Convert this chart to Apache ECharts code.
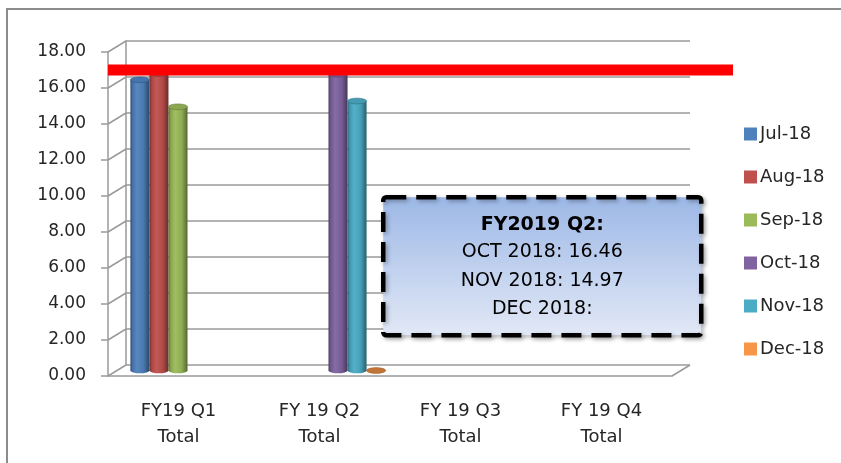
<!DOCTYPE html>
<html><head><meta charset="utf-8">
<script src="https://cdn.jsdelivr.net/npm/echarts@6/dist/echarts.min.js"></script>
<style>html,body{margin:0;padding:0;background:#fff}#c{width:841px;height:463px}</style>
</head><body><div id="c"></div>
<script>
// ---- data ----
const categories = ['FY19 Q1 Total', 'FY 19 Q2 Total', 'FY 19 Q3 Total', 'FY 19 Q4 Total'];
const seriesNames = ['Jul-18', 'Aug-18', 'Sep-18', 'Oct-18', 'Nov-18', 'Dec-18'];
const jul = [16.15, null, null, null];
const aug = [16.5, null, null, null];
const sep = [14.65, null, null, null];
const oct = [null, 16.46, null, null];
const nov = [null, 14.97, null, null];
const dec = [null, 0, null, null];
const targetValue = 17;
const yMin = 0, yMax = 18, yInterval = 2;
const noteTitle = 'FY2019 Q2:';
const noteLines = ['OCT 2018: ' + oct[1], 'NOV 2018: ' + nov[1], 'DEC 2018:'];

// ---- style ----
const seriesValues = [jul, aug, sep, oct, nov, dec];
const colors = ['#4F81BD', '#C0504D', '#9BBB59', '#8064A2', '#4BACC6', '#F79646'];
const FONT = 'DejaVu Sans';
const TXT = '#262626';
const GRID_C = '#9a9a9a';
const DX = 18, DY = 11;
const G = { left: 108, top: 52, width: 564, height: 324 };

// f < 0 darkens toward black, f > 0 lightens toward white
function shade(c, f) {
  const a = echarts.color.parse(c);
  const out = [0, 1, 2].map(i => Math.round(f < 0 ? a[i] * (1 + f) : a[i] + (255 - a[i]) * f));
  return 'rgb(' + out.join(',') + ')';
}

const yTicks = [];
for (let v = yMin; v <= yMax + 1e-9; v += yInterval) yTicks.push(v);

const chart = echarts.init(document.getElementById('c'), null, { renderer: 'canvas' });

function cylinderRender(si) {
  return function (params, api) {
    const cat = api.value(0), val = api.value(1);
    const top = api.coord([cat, val]);
    const base = api.coord([cat, 0]);
    const bandW = api.size([1, 0])[0];
    const w = bandW * 0.135;
    const x = top[0] - w * 3 + si * w;
    const ry = w * 0.15;
    const c = colors[si];
    const grad = new echarts.graphic.LinearGradient(0, 0, 1, 0, [
      { offset: 0, color: shade(c, -0.4) },
      { offset: 0.12, color: shade(c, -0.12) },
      { offset: 0.35, color: shade(c, 0.05) },
      { offset: 0.7, color: shade(c, -0.08) },
      { offset: 1, color: shade(c, -0.45) }
    ]);
    const children = [];
    children.push({ type: 'ellipse', shape: { cx: x + w / 2, cy: base[1], rx: w / 2, ry: ry }, style: { fill: grad } });
    const h = base[1] - top[1];
    if (h > 0.5) {
      children.push({ type: 'rect', shape: { x: x, y: top[1], width: w, height: h }, style: { fill: grad } });
    }
    children.push({ type: 'ellipse', shape: { cx: x + w / 2, cy: top[1], rx: w / 2, ry: ry },
      style: { fill: h > 0.5 ? shade(c, -0.1) : shade(c, -0.22), stroke: shade(c, -0.35), lineWidth: 0.6 } });
    return { type: 'group', children: children };
  };
}

const cylSeries = seriesNames.map((name, si) => ({
  name: name,
  type: 'custom',
  xAxisIndex: 1, yAxisIndex: 1,
  itemStyle: { color: colors[si] },
  renderItem: cylinderRender(si),
  data: seriesValues[si].map((v, i) => [i, v]).filter(d => d[1] != null),
  z: 5
}));

const textStyleBox = (t, y, bold) => ({
  type: 'text', z: 101,
  style: { x: 159, y: y, text: t, align: 'center', verticalAlign: 'middle',
    font: (bold ? 'bold ' : '') + '19px "DejaVu Sans"', fill: '#000' }
});

const option = {
  animation: false,
  backgroundColor: '#fff',
  grid: [
    { left: G.left, top: G.top, width: G.width, height: G.height },
    { left: G.left + DX / 2, top: G.top - DY / 2, width: G.width, height: G.height },
    { left: G.left + DX, top: G.top - DY, width: G.width, height: G.height }
  ],
  xAxis: [
    { gridIndex: 0, type: 'category', data: categories,
      axisLine: { lineStyle: { color: GRID_C, width: 1.5 } },
      axisTick: { length: 7, lineStyle: { color: GRID_C, width: 1.5 } },
      axisLabel: { margin: 22, fontFamily: FONT, fontSize: 18, color: TXT, lineHeight: 26,
        formatter: v => v.replace(' Total', '\nTotal') } },
    { gridIndex: 1, type: 'category', data: categories, show: false },
    { gridIndex: 2, type: 'category', data: categories, show: false }
  ],
  yAxis: [
    { gridIndex: 0, type: 'value', min: yMin, max: yMax, interval: yInterval,
      axisLine: { show: true, lineStyle: { color: GRID_C, width: 1.5 } },
      axisTick: { show: true, length: 7, lineStyle: { color: GRID_C, width: 1.5 } },
      splitLine: { show: false },
      axisLabel: { margin: 22, fontFamily: FONT, fontSize: 17, color: TXT, formatter: v => v.toFixed(2) } },
    { gridIndex: 1, type: 'value', min: yMin, max: yMax, interval: yInterval, show: false },
    { gridIndex: 2, type: 'value', min: yMin, max: yMax, interval: yInterval,
      axisLine: { show: true, lineStyle: { color: GRID_C, width: 1.5 } },
      axisTick: { show: false }, axisLabel: { show: false },
      splitLine: { show: true, lineStyle: { color: GRID_C, width: 1.5 } } }
  ],
  legend: {
    data: seriesNames,
    orient: 'vertical',
    left: 739, top: 118,
    icon: 'rect', itemWidth: 13, itemHeight: 13, itemGap: 21,
    textStyle: { fontFamily: FONT, fontSize: 18, color: TXT, lineHeight: 22, padding: [0, 0, 0, -2] }
  },
  series: [
    { type: 'custom', xAxisIndex: 0, yAxisIndex: 0, silent: true, z: 1,
      data: yTicks.map(v => [0, v]),
      renderItem: function (params, api) {
        const y = api.coord([0, api.value(1)])[1];
        const cs = params.coordSys;
        const st = { stroke: GRID_C, lineWidth: 1.5 };
        const ch = [{ type: 'line', shape: { x1: cs.x, y1: y, x2: cs.x + DX, y2: y - DY }, style: st }];
        if (api.value(1) === yMin) {
          ch.push({ type: 'line', shape: { x1: cs.x + cs.width, y1: y, x2: cs.x + cs.width + DX, y2: y - DY }, style: st });
        }
        return { type: 'group', children: ch };
      } },
    ...cylSeries,
    { type: 'custom', xAxisIndex: 0, yAxisIndex: 0, silent: true, z: 20,
      data: [[0, targetValue]],
      renderItem: function (params, api) {
        const y = api.coord([0, api.value(1)])[1];
        const cs = params.coordSys;
        return { type: 'line', shape: { x1: cs.x, y1: y, x2: 733, y2: y },
          style: { stroke: '#FF0000', lineWidth: 11 } };
      } }
  ],
  graphic: [
    { type: 'rect', silent: true, z: -1,
      shape: { x: 7, y: 9, width: 900, height: 500 },
      style: { fill: 'none', stroke: '#8c8c8c', lineWidth: 2 } },
    { type: 'group', left: 381, top: 195, z: 100, children: [
      { type: 'rect', z: 100, shape: { x: 0, y: 0, width: 318, height: 138, r: 3 },
        style: { fill: new echarts.graphic.LinearGradient(0, 0, 0, 1, [
            { offset: 0, color: '#9cb7e6' }, { offset: 1, color: '#e3e9f6' }]),
          stroke: '#000', lineWidth: 4.5, lineDash: [20, 10],
          shadowBlur: 4, shadowOffsetX: 2, shadowOffsetY: 2, shadowColor: 'rgba(0,0,0,0.3)' } },
      textStyleBox(noteTitle, 28, true),
      textStyleBox(noteLines[0], 55, false),
      textStyleBox(noteLines[1], 84, false),
      textStyleBox(noteLines[2], 112, false)
    ] }
  ]
};
chart.setOption(option);
</script>
</body></html>
